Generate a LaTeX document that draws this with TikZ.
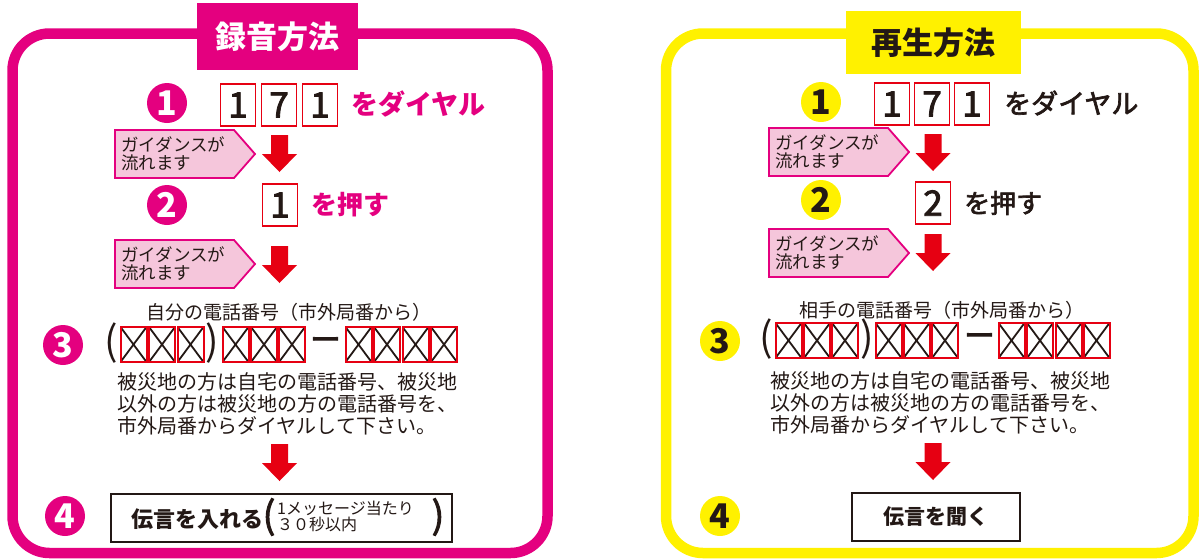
\documentclass[tikz,border=0pt]{standalone}
\usepackage{fontspec}
\setmainfont{Noto Sans CJK JP}
\newfontfamily\medfont[FakeBold=2.5]{Noto Sans CJK JP}
\definecolor{mag}{HTML}{E4007F}
\definecolor{yel}{HTML}{FFF100}
\definecolor{rd}{HTML}{E60012}
\definecolor{pk}{HTML}{F5C6DB}
\definecolor{ink}{HTML}{231815}
\newcommand\fs[1]{\fontsize{#1}{#1}\selectfont}
% red block arrow: centre x, top y
\newcommand\redarrow[2]{\fill[rd] (#1-8.5,#2) -- (#1+8.5,#2) -- (#1+8.5,#2+19) -- (#1+17.5,#2+19) -- (#1,#2+37) -- (#1-17.5,#2+19) -- (#1-8.5,#2+19) -- cycle;}
% guidance pentagon: left x, top y, node name
\newcommand\guide[3]{\draw[mag,fill=pk,line width=1.8] (#1,#2) -- (#1+119,#2) -- (#1+140,#2+24) -- (#1+119,#2+48) -- (#1,#2+48) -- cycle;
  \node[guidetext,anchor=west] (#3) at (#1+6,#2+24) {ガイダンスが\\流れます};}
\tikzset{
  circM/.style={circle,fill=mag,text=white,minimum size=40,inner sep=0,font=\fs{34}\bfseries},
  circY/.style={circle,fill=yel,text=ink,minimum size=40,inner sep=0,font=\fs{34}\bfseries},
  digbox/.style={draw=rd,line width=1.8,fill=white,minimum width=35,minimum height=42,inner sep=0,text=ink,font=\medfont\fs{35}},
  xbox/.style={draw=rd,line width=2,minimum width=26,minimum height=35,inner sep=0,
    path picture={\draw[ink,line width=1.8] (path picture bounding box.north west) -- (path picture bounding box.south east)
      (path picture bounding box.north east) -- (path picture bounding box.south west);}},
  guidetext/.style={align=left,text=ink,font=\fontsize{17.5}{18}\selectfont,inner sep=0},
  para/.style={align=left,text=ink,font=\fontsize{20}{22}\selectfont,inner sep=0},
  caption/.style={text=ink,font=\fs{19},inner sep=0},
  paren/.style={text=ink,font=\fs{40},inner sep=0},
  dashch/.style={text=ink,font=\medfont\fs{31},inner sep=0},
  endbox/.style={draw=ink,line width=2.5,fill=white,inner sep=0},
}
\begin{document}
\begin{tikzpicture}[x=1pt,y=-1pt]
\useasboundingbox (0,0) rectangle (1201,558);
% ================= LEFT PANEL =================
\draw[mag,line width=10.5,rounded corners=37] (12.5,33.5) rectangle (547.5,553);
\node[fill=mag,minimum width=161,minimum height=67,inner sep=0,text=white,font=\fs{31}\bfseries] (Ltitle) at (277.5,36.5) {録音方法};
% step 1
\node[circM] (L1) at (167,103) {1};
\node[digbox] (L1a) at (238,105) {1};
\node[digbox] (L1b) at (279,105) {7};
\node[digbox] (L1c) at (320,105) {1};
\node[anchor=west,inner sep=0,text=mag,font=\fs{27}\bfseries] (L1t) at (351,104) {をダイヤル};
\guide{115}{130}{Lg1}
\redarrow{279.5}{135}
% step 2
\node[circM] (L2) at (167,205) {2};
\node[digbox] (L2a) at (280,205) {1};
\node[anchor=west,inner sep=0,text=mag,font=\fs{26}\bfseries] (L2t) at (311,205) {を押す};
\guide{115}{240}{Lg2}
\redarrow{279.5}{246}
% step 3
\node[caption] (L3c) at (288.5,312) {自分の電話番号（市外局番から）};
\node[circM] (L3) at (63,345) {3};
\node[paren] (Lp1) at (111,343) {(};
\node[xbox] (Lx1) at (133.5,344.5) {};
\node[xbox] (Lx2) at (162,344.5) {};
\node[xbox] (Lx3) at (190.5,344.5) {};
\node[paren] (Lp2) at (212,343) {)};
\node[xbox] (Lx4) at (235.5,344.5) {};
\node[xbox] (Lx5) at (264,344.5) {};
\node[xbox] (Lx6) at (292,344.5) {};
\node[dashch] (Ld) at (325.5,344) {ー};
\node[xbox] (Lx7) at (358.5,344.5) {};
\node[xbox] (Lx8) at (387,344.5) {};
\node[xbox] (Lx9) at (415.5,344.5) {};
\node[xbox] (Lx10) at (444,344.5) {};
\node[para,anchor=west] (L3p) at (117,404) {被災地の方は自宅の電話番号、被災地\\以外の方は被災地の方の電話番号を、\\市外局番からダイヤルして下さい。};
\redarrow{279.5}{444}
% step 4
\node[circM] (L4) at (65,516) {4};
\node[endbox,minimum width=341,minimum height=48] (L4b) at (281.5,518) {};
\node[anchor=west,inner sep=0,text=ink,font=\fs{22}\bfseries] (L4t) at (131,519) {伝言を入れる};
\node[paren,font=\medfont\fs{37}] (L4p1) at (269,517) {(};
\node[anchor=west,align=left,inner sep=0,text=ink,font=\fontsize{16}{16}\selectfont] (L4s) at (277,516) {1メッセージ当たり\\３０秒以内};
\node[paren,font=\medfont\fs{37}] (L4p2) at (438,517) {)};
% ================= RIGHT PANEL =================
\draw[yel,line width=10.5,rounded corners=37] (666,33.5) rectangle (1193.5,553);
\node[fill=yel,minimum width=175,minimum height=63,inner sep=0,text=ink,font=\fs{31}\bfseries] (Rtitle) at (933.5,42.5) {再生方法};
% step 1
\node[circY] (R1) at (821,102) {1};
\node[digbox] (R1a) at (892,104) {1};
\node[digbox] (R1b) at (932,104) {7};
\node[digbox] (R1c) at (972,104) {1};
\node[anchor=west,inner sep=0,text=ink,font=\medfont\fs{27}] (R1t) at (1004,103) {をダイヤル};
\guide{769}{128}{Rg1}
\redarrow{933}{134}
% step 2
\node[circY] (R2) at (821,200) {2};
\node[digbox] (R2a) at (933,203) {2};
\node[anchor=west,inner sep=0,text=ink,font=\medfont\fs{26}] (R2t) at (964,203) {を押す};
\guide{769}{229}{Rg2}
\redarrow{933}{234}
% step 3
\node[caption] (R3c) at (941.5,310) {相手の電話番号（市外局番から）};
\node[circY] (R3) at (720,341) {3};
\node[paren] (Rp1) at (766.5,339) {(};
\node[xbox] (Rx1) at (788.5,340.5) {};
\node[xbox] (Rx2) at (817,340.5) {};
\node[xbox] (Rx3) at (845,340.5) {};
\node[paren] (Rp2) at (867,339) {)};
\node[xbox] (Rx4) at (888.5,340.5) {};
\node[xbox] (Rx5) at (916.5,340.5) {};
\node[xbox] (Rx6) at (945,340.5) {};
\node[dashch] (Rd) at (979.5,340) {ー};
\node[xbox] (Rx7) at (1011.5,340.5) {};
\node[xbox] (Rx8) at (1040,340.5) {};
\node[xbox] (Rx9) at (1068.5,340.5) {};
\node[xbox] (Rx10) at (1096.5,340.5) {};
\node[para,anchor=west] (R3p) at (770,403) {被災地の方は自宅の電話番号、被災地\\以外の方は被災地の方の電話番号を、\\市外局番からダイヤルして下さい。};
\redarrow{933}{443}
% step 4
\node[circY] (R4) at (720,516) {4};
\node[endbox,minimum width=168,minimum height=48,text=ink,font=\fs{21}\bfseries] (R4b) at (936,517) {伝言を聞く};
\end{tikzpicture}
\end{document}
